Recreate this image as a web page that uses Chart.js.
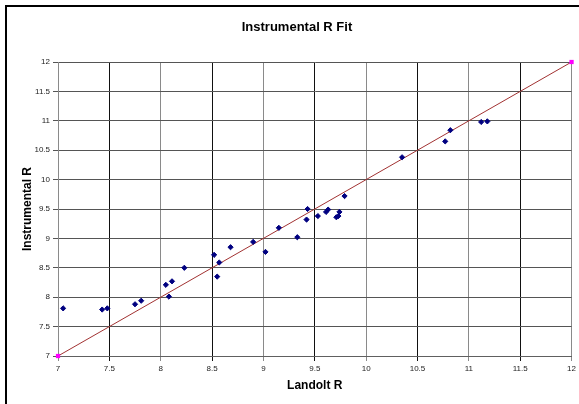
<!DOCTYPE html>
<html>
<head>
<meta charset="utf-8">
<script src="https://cdn.jsdelivr.net/npm/chart.js@4/dist/chart.umd.min.js"></script>
<style>
html,body{margin:0;padding:0;background:#fff;}
#wrap{width:579px;height:404px;}
</style>
</head>
<body>
<div id="wrap"><canvas id="c" width="579" height="404"></canvas></div>
<script>
const chartTitle = 'Instrumental R Fit';
const xAxisTitle = 'Landolt R';
const yAxisTitle = 'Instrumental R';

const landoltR = [7.05, 7.43, 7.48, 7.75, 7.81, 8.05, 8.08, 8.11, 8.23, 8.52, 8.57, 8.55, 8.68, 8.90, 9.02, 9.15, 9.33, 9.42, 9.43, 9.53, 9.61, 9.63, 9.71, 9.73, 9.74, 9.79, 10.35, 10.77, 10.82, 11.12, 11.18];
const instrumentalR = [7.81, 7.79, 7.81, 7.88, 7.94, 8.21, 8.01, 8.27, 8.50, 8.72, 8.59, 8.35, 8.85, 8.94, 8.77, 9.18, 9.02, 9.32, 9.50, 9.38, 9.45, 9.49, 9.36, 9.38, 9.45, 9.72, 10.38, 10.65, 10.84, 10.98, 10.99];

const fitX = [7, 12];
const fitY = [7, 12];

const tickValues = [7, 7.5, 8, 8.5, 9, 9.5, 10, 10.5, 11, 11.5, 12];

const scatterData = landoltR.map((x, i) => ({x: x, y: instrumentalR[i]}));
const fitData = fitX.map((x, i) => ({x: x, y: fitY[i]}));

const tickFont = {family: "'Liberation Sans Narrow', 'Arial Narrow', 'Liberation Sans', Arial, sans-serif", size: 8};
const boldFont = {family: "'Liberation Sans', Arial, sans-serif", size: 12, weight: 'bold'};

const frame = {
  id: 'frame',
  beforeDraw(chart) {
    const ctx = chart.ctx;
    ctx.save();
    ctx.fillStyle = '#ffffff';
    ctx.fillRect(0, 0, chart.width, chart.height);
    ctx.fillStyle = '#000000';
    ctx.fillRect(5, 5, chart.width - 5, 2);
    ctx.fillRect(5, 5, 2, chart.height - 5);
    ctx.restore();
  },
  afterDraw(chart) {
    const ctx = chart.ctx;
    ctx.save();
    ctx.font = "bold 13px 'Liberation Sans', Arial, sans-serif";
    ctx.fillStyle = '#000000';
    ctx.textAlign = 'center';
    ctx.textBaseline = 'middle';
    ctx.fillText(chartTitle, 297, 27);
    ctx.restore();
  }
};

new Chart(document.getElementById('c'), {
  type: 'scatter',
  data: {
    datasets: [
      {
        label: 'Data',
        data: scatterData,
        showLine: false,
        pointStyle: 'rectRot',
        pointRadius: 2.6,
        pointBackgroundColor: '#000080',
        pointBorderColor: '#000080',
        pointBorderWidth: 1
      },
      {
        label: 'Fit',
        data: fitData,
        showLine: true,
        borderColor: '#a23232',
        borderWidth: 1,
        pointStyle: 'rect',
        pointRadius: 3,
        pointBackgroundColor: '#ff00ff',
        pointBorderColor: '#ff00ff',
        pointBorderWidth: 0,
        clip: false
      }
    ]
  },
  plugins: [frame],
  options: {
    responsive: false,
    animation: false,
    devicePixelRatio: 1,
    layout: {padding: {left: 0, right: 6, top: 62, bottom: 0}},
    plugins: {
      legend: {display: false},
      title: {display: false},
      tooltip: {enabled: false}
    },
    scales: {
      x: {
        type: 'linear',
        min: 7,
        max: 12,
        afterBuildTicks(scale) { scale.ticks = tickValues.map(v => ({value: v})); },
        afterFit(scale) { scale.height = 48; },
        border: {color: '#606060', width: 1},
        grid: {
          color: ctx => (ctx.tick && Math.round(ctx.tick.value * 2) % 2 === 1) ? '#111111' : '#8a8a8a',
          lineWidth: 1,
          tickLength: 5,
          drawTicks: true
        },
        ticks: {
          font: tickFont,
          color: '#222222',
          padding: 3,
          maxRotation: 0,
          autoSkip: false,
          callback: v => String(v)
        },
        title: {
          display: true,
          text: xAxisTitle,
          font: boldFont,
          color: '#000000',
          padding: {top: 0, bottom: 11}
        }
      },
      y: {
        type: 'linear',
        min: 7,
        max: 12,
        afterBuildTicks(scale) { scale.ticks = tickValues.map(v => ({value: v})); },
        afterFit(scale) { scale.width = 58; },
        border: {color: '#8a8a8a', width: 1},
        grid: {
          color: '#555555',
          lineWidth: 1,
          tickLength: 5,
          drawTicks: true
        },
        ticks: {
          font: tickFont,
          color: '#222222',
          padding: 3,
          autoSkip: false,
          callback: v => String(v)
        },
        title: {
          display: true,
          text: yAxisTitle,
          font: boldFont,
          color: '#000000',
          padding: {top: 20, bottom: 0}
        }
      }
    }
  }
});
</script>
</body>
</html>
